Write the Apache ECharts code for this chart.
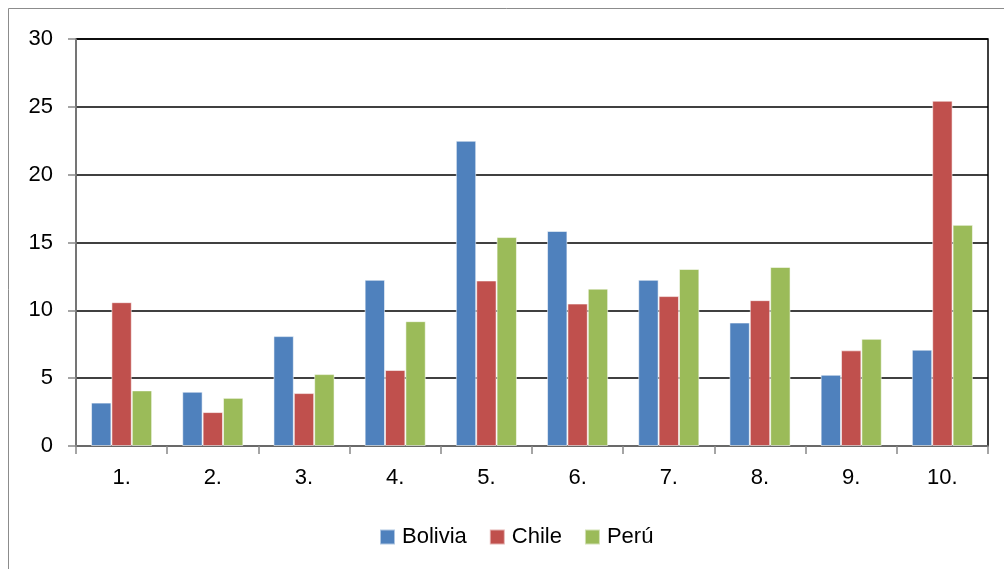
<!DOCTYPE html>
<html>
<head>
<meta charset="utf-8">
<script src="https://cdn.jsdelivr.net/npm/echarts@6/dist/echarts.min.js"></script>
<style>
  html, body { margin: 0; padding: 0; background: #fff; }
  #chart { width: 1004px; height: 569px; }
</style>
</head>
<body>
<div id="chart"></div>
<script>
// Category labels along the x axis
const categories = ['1.', '2.', '3.', '4.', '5.', '6.', '7.', '8.', '9.', '10.'];

// Series values per country
const bolivia = [3.2, 4.0, 8.1, 12.25, 22.5, 15.85, 12.25, 9.1, 5.25, 7.1];
const chile   = [10.6, 2.5, 3.9, 5.6, 12.2, 10.5, 11.05, 10.75, 7.05, 25.45];
const peru    = [4.1, 3.55, 5.3, 9.2, 15.4, 11.6, 13.05, 13.2, 7.9, 16.3];

const seriesNames = ['Bolivia', 'Chile', 'Perú'];
const colors = ['#4F81BD', '#C0504D', '#9BBB59'];

const font = '"Liberation Sans", "DejaVu Sans", sans-serif';

const chart = echarts.init(document.getElementById('chart'), null, { renderer: 'canvas' });

function bar(name, data, color) {
  return {
    name: name,
    type: 'bar',
    data: data,
    barGap: '0%',
    barCategoryGap: '33%',
    itemStyle: { color: color, borderColor: 'rgba(255,255,255,0.55)', borderWidth: 1 }
  };
}

chart.setOption({
  animation: false,
  backgroundColor: '#fff',
  color: colors,
  graphic: [{
    type: 'rect',
    shape: { x: 8.5, y: 8.5, width: 1100, height: 700 },
    style: { fill: 'none', stroke: '#8c8c8c', lineWidth: 1 },
    silent: true,
    z: -1
  }],
  grid: { left: 76, right: 16, top: 39, bottom: 123, show: true, borderColor: '#000', borderWidth: 1.5, backgroundColor: 'transparent' },
  legend: {
    bottom: 16,
    left: 374,
    itemWidth: 15,
    itemHeight: 15,
    itemGap: 22,
    icon: 'rect',
    textStyle: { fontFamily: font, fontSize: 22, color: '#000', padding: [0, 0, 0, 2] },
    data: seriesNames
  },
  xAxis: {
    type: 'category',
    data: categories,
    axisLine: { lineStyle: { color: '#888', width: 1.5 } },
    axisTick: { show: true, alignWithLabel: false, length: 8, lineStyle: { color: '#888', width: 1.5 } },
    axisLabel: { fontFamily: font, fontSize: 22, color: '#000', margin: 21 }
  },
  yAxis: {
    type: 'value',
    min: 0,
    max: 30,
    interval: 5,
    axisLine: { show: true, lineStyle: { color: '#888', width: 1.5 } },
    axisTick: { show: true, length: 8, lineStyle: { color: '#888', width: 1.5 } },
    splitLine: { show: true, lineStyle: { color: '#000', width: 1.5 } },
    axisLabel: { fontFamily: font, fontSize: 22, color: '#000', margin: 23 }
  },
  series: [
    bar(seriesNames[0], bolivia, colors[0]),
    bar(seriesNames[1], chile, colors[1]),
    bar(seriesNames[2], peru, colors[2])
  ]
});
</script>
</body>
</html>
